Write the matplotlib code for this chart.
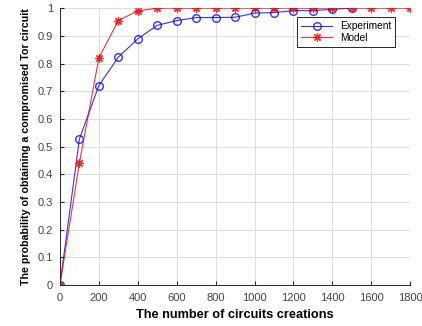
# Probabilidad de obtener un circuito Tor comprometido
import matplotlib.pyplot as plt

plt.rcParams['font.family'] = ['Liberation Sans', 'DejaVu Sans']

# Datos
exp_x = [0, 100, 200, 300, 400, 500, 600, 700, 800, 900, 1000, 1100, 1200, 1300, 1400, 1500]
exp_y = [0, 0.527, 0.72, 0.823, 0.889, 0.938, 0.955, 0.966, 0.966, 0.967, 0.982, 0.984, 0.991, 0.991, 0.996, 1.0]
model_x = [0, 100, 200, 300, 400, 500, 600, 700, 800, 900, 1000, 1100, 1200, 1300, 1400, 1500, 1600, 1700, 1800]
model_y = [0, 0.44, 0.82, 0.955, 0.99, 1, 1, 1, 1, 1, 1, 1, 1, 1, 1, 1, 1, 1, 1]

fig = plt.figure(figsize=(4.22, 3.26), dpi=100)
ax = fig.add_axes([0.142, 0.126, 0.830, 0.849])

ax.plot(exp_x, exp_y, color='#0000ff', marker='o', fillstyle='none', markersize=5.5,
        linewidth=0.8, label='Experiment', alpha=0.8)
ax.plot(model_x, model_y, color='#ff0000', marker=(8, 2, 0), markersize=6,
        markeredgewidth=0.9, linewidth=0.8, label='Model', alpha=0.8)

ax.set_xlim(0, 1800)
ax.set_ylim(0, 1)
ax.set_xticks(range(0, 1801, 200))
ax.set_yticks([i / 10 for i in range(11)])
ax.set_yticklabels(['0', '0.1', '0.2', '0.3', '0.4', '0.5', '0.6', '0.7', '0.8', '0.9', '1'])
ax.tick_params(labelsize=8, colors='#262626', labelcolor='#444444', length=3, direction='in')
ax.tick_params(axis='x', pad=6)
ax.tick_params(axis='y', pad=5)
ax.grid(True, color='#dddddd', linewidth=0.7)
ax.set_axisbelow(True)
for s in ['top', 'right']:
    ax.spines[s].set_visible(False)
for s in ['left', 'bottom']:
    ax.spines[s].set_color('#262626')
    ax.spines[s].set_linewidth(0.7)

ax.set_xlabel('The number of circuits creations', fontsize=9.2, fontweight='bold', labelpad=4)
ax.set_ylabel('The probability of obtaining a compromised Tor circuit', fontsize=7.7,
              fontweight='bold', labelpad=5)

leg = ax.legend(loc='upper right', bbox_to_anchor=(0.972, 0.985), fontsize=7.3,
                fancybox=False, edgecolor='#262626', framealpha=1, handlelength=3.0,
                borderpad=0.4, labelspacing=0.15)
leg.get_frame().set_linewidth(0.7)

plt.savefig('out.png')
